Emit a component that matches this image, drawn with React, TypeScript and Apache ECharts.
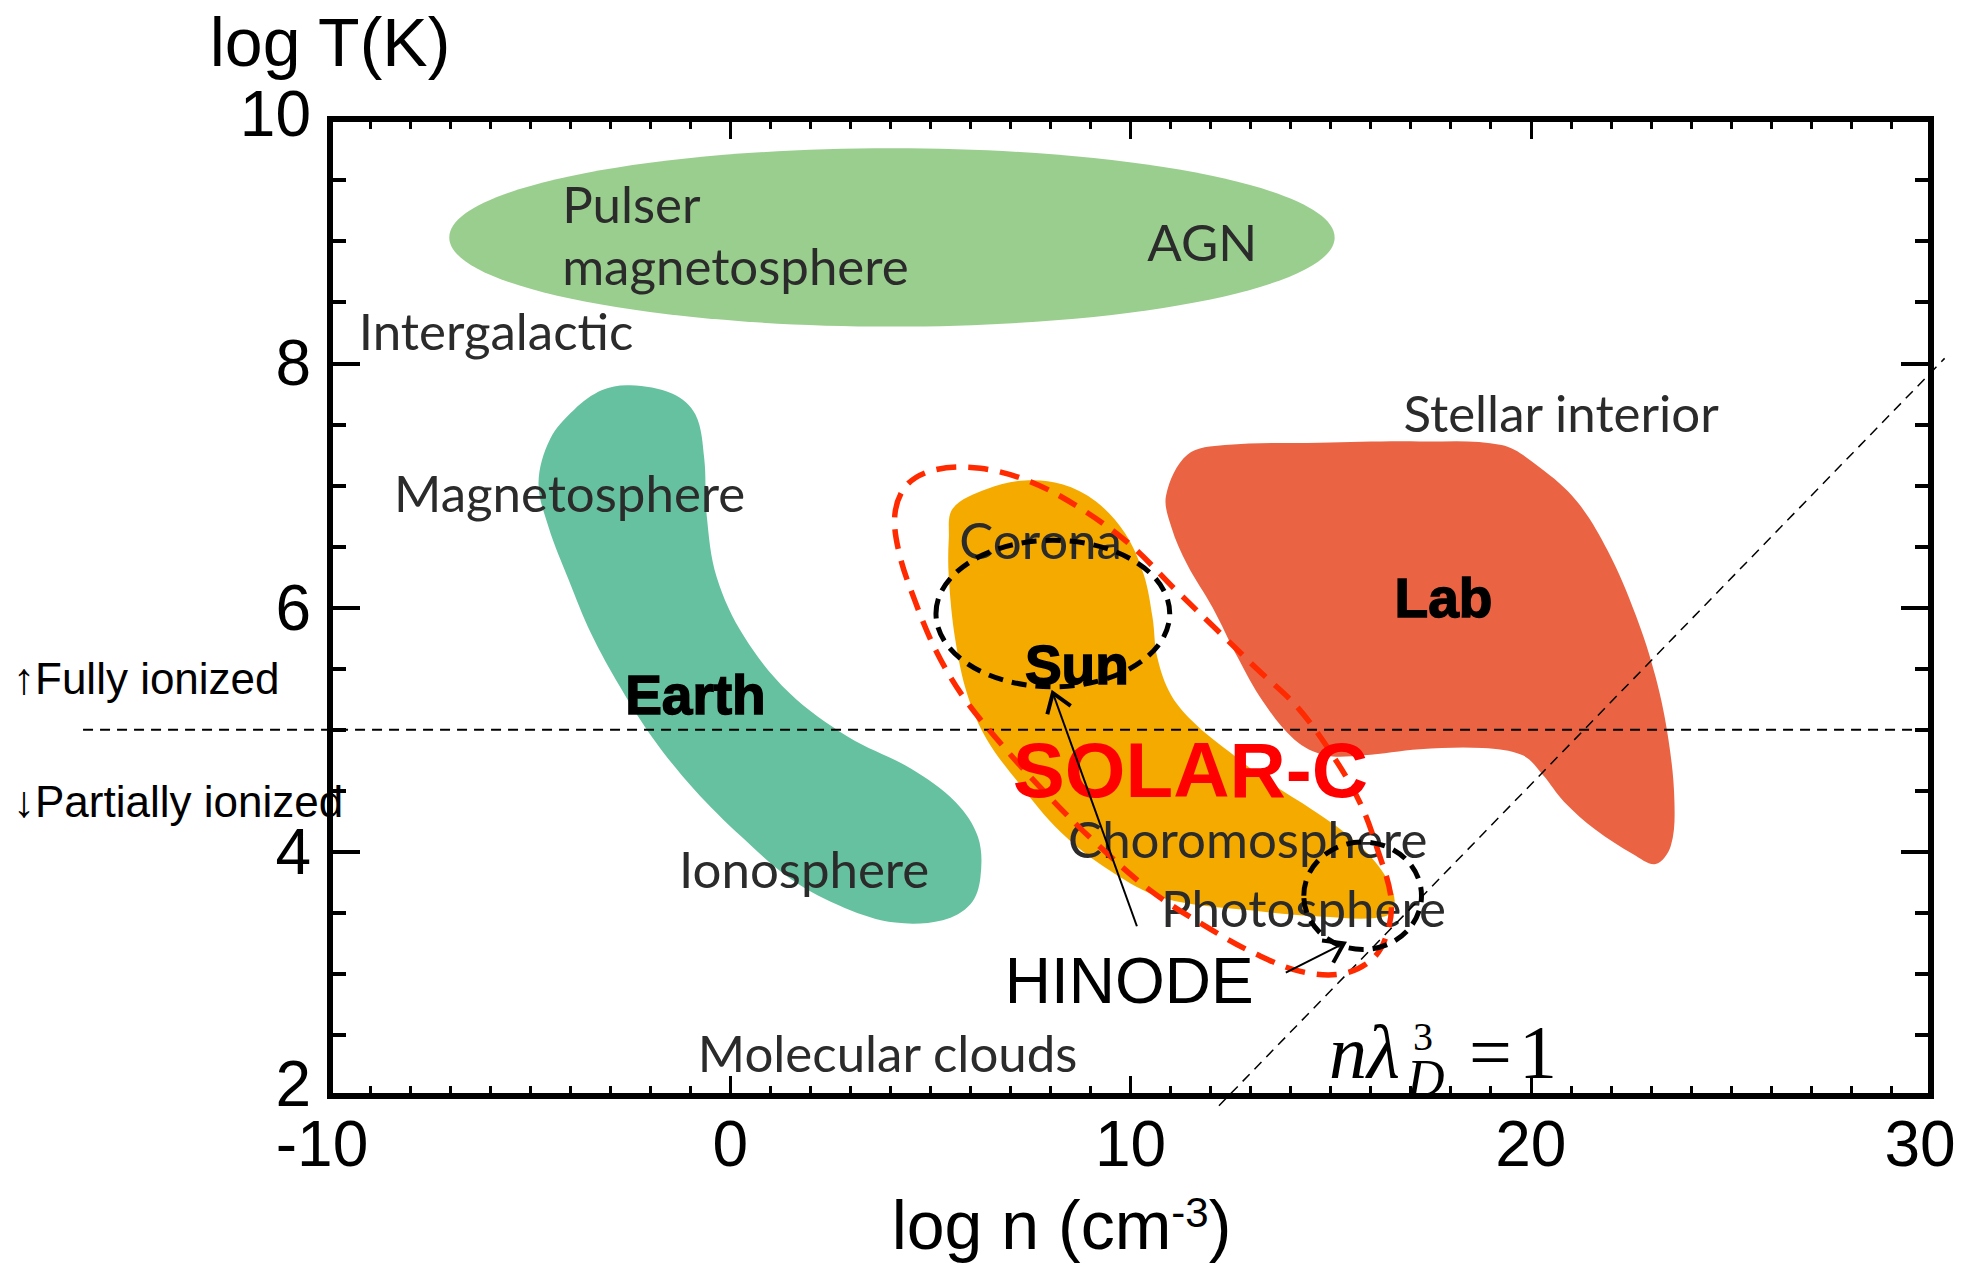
import React, { useEffect, useRef } from 'react';
import * as echarts from 'echarts';

// ---------- data (log n, log T) ----------
const xTicks = [-10, 0, 10, 20, 30];
const yTicks = [2, 4, 6, 8, 10];

// ellipses: [centre n, centre T, half-width n, half-height T]
const pulsarEllipse = [4.04, 9.03, 11.06, 0.73];
const sunCircle = [8.06, 5.95, 2.92, 0.6];
const photosphereCircle = [15.8, 3.64, 1.47, 0.44];

const earthRegion: number[][] = [
  [-2.5, 7.82], [-1.44, 7.75], [-0.87, 7.58], [-0.65, 7.22], [-0.59, 6.76], [-0.34, 6.25],
  [0.35, 5.76], [1.48, 5.3], [2.95, 4.94], [4.52, 4.68], [5.62, 4.41], [6.19, 4.12],
  [6.25, 3.79], [6.0, 3.57], [5.31, 3.44], [4.12, 3.42], [2.86, 3.54], [1.54, 3.77],
  [0.29, 4.12], [-0.9, 4.51], [-1.91, 4.92], [-2.75, 5.35], [-3.48, 5.79], [-4.04, 6.23],
  [-4.54, 6.66], [-4.79, 7.02], [-4.5, 7.38], [-3.9, 7.62], [-3.2, 7.78],
];

const sunRegion: number[][] = [
  [5.56, 6.81], [6.41, 6.97], [7.35, 7.04], [8.29, 7.01], [9.13, 6.87], [9.86, 6.61],
  [10.33, 6.27], [10.55, 5.92], [10.67, 5.59], [11.02, 5.28], [11.64, 5.04], [12.46, 4.82],
  [13.46, 4.57], [14.56, 4.34], [15.56, 4.1], [16.29, 3.84], [16.6, 3.6], [16.35, 3.47],
  [14.72, 3.47], [12.99, 3.52], [10.83, 3.62], [9.51, 3.84], [8.26, 4.16], [7.19, 4.57],
  [6.41, 4.92], [5.93, 5.28], [5.62, 5.74], [5.46, 6.25], [5.46, 6.56],
];

const labRegion: number[][] = [
  [11.42, 7.25], [12.36, 7.33], [14.72, 7.35], [17.23, 7.36], [19.27, 7.33], [20.21, 7.15],
  [21.15, 6.87], [21.93, 6.46], [22.62, 5.94], [23.12, 5.43], [23.44, 4.92], [23.59, 4.41],
  [23.5, 4.05], [23.12, 3.9], [22.56, 3.98], [21.62, 4.18], [20.83, 4.41], [20.3, 4.63],
  [19.8, 4.79], [18.8, 4.85], [17.23, 4.84], [15.82, 4.79], [14.87, 4.79], [14.09, 4.92],
  [13.31, 5.23], [12.68, 5.59], [12.05, 6.0], [11.42, 6.35], [11.02, 6.66], [10.89, 6.92],
];

const solarCRange: number[][] = [
  [4.12, 6.78], [4.43, 7.01], [5.15, 7.13], [6.25, 7.14], [7.5, 7.03], [8.76, 6.81],
  [10.01, 6.51], [11.11, 6.15], [12.15, 5.82], [13.15, 5.5], [14.18, 5.18], [15.09, 4.77],
  [15.75, 4.39], [16.16, 4.03], [16.51, 3.62], [16.41, 3.33], [16.04, 3.12], [15.28, 3.0],
  [14.25, 3.02], [13.15, 3.16], [12.08, 3.35], [10.51, 3.68], [9.01, 4.11], [8.0, 4.44],
  [6.88, 4.84], [5.84, 5.26], [5.15, 5.64], [4.62, 6.05], [4.21, 6.46],
];

const ionizationLine = [[-16.17, 5], [30, 5]];
const debyeLine = [[12.21, 1.92], [30.34, 8.04]];

// HINODE arrows: [start n, start T, tip n, tip T]
const hinodeArrows = [
  [10.16, 3.39, 8.06, 5.3],
  [13.88, 3.01, 15.33, 3.25],
];

const regionNames = [
  'Pulser', 'magnetosphere', 'AGN', 'Intergalactic', 'Magnetosphere', 'Stellar interior',
  'Corona', 'Choromosphere', 'Photosphere', 'Ionosphere', 'Molecular clouds',
];
const regionNamePos = [
  [-4.2, 9.31], [-4.2, 8.8], [10.42, 9.0], [-9.28, 8.27], [-8.4, 6.94], [16.82, 7.6],
  [5.72, 6.56], [8.44, 4.11], [10.76, 3.54], [-1.28, 3.86], [-0.81, 2.36],
];

const boldNames = ['Earth', 'Sun', 'Lab'];
const boldNamePos = [[-0.87, 5.28], [8.66, 5.53], [17.82, 6.08]];

const sideNotes = ['↑Fully ionized', '↓Partially ionized'];
const sideNotePos = [[-17.92, 5.42], [-17.92, 4.41]];

const solarCLabel = ['SOLAR-C'];
const solarCPos = [[7.06, 4.67]];
const hinodeLabel = ['HINODE'];
const hinodePos = [[6.86, 2.94]];
const debyeLabelPos = [[14.96, 2.15]];

// ---------- styles ----------
const GREEN_LIGHT = '#9ACE8E';
const TEAL = '#66C1A0';
const ORANGE = '#F5AA00';
const LAB_RED = '#EA6444';
const DASH_RED = '#FF2A00';
const GREY_TEXT = '#2b2b2b';

function regionSeries(points: number[][], fill: string, z: number) {
  return {
    type: 'custom',
    coordinateSystem: 'cartesian2d',
    silent: true,
    z,
    data: points,
    renderItem: (params: any, api: any) => {
      if (params.dataIndex !== 0) return null;
      return {
        type: 'polygon',
        shape: { points: points.map((p) => api.coord(p)), smooth: 0.35 },
        style: { fill, stroke: null },
      };
    },
  };
}

function dashedOutlineSeries(points: number[][], stroke: string, z: number) {
  return {
    type: 'custom',
    coordinateSystem: 'cartesian2d',
    silent: true,
    z,
    data: points,
    renderItem: (params: any, api: any) => {
      if (params.dataIndex !== 0) return null;
      return {
        type: 'polygon',
        shape: { points: points.map((p) => api.coord(p)), smooth: 0.35 },
        style: { fill: null, stroke, lineWidth: 5.5, lineDash: [20, 12] },
      };
    },
  };
}

function dashedLineSeries(points: number[][], lineWidth: number, z: number) {
  return {
    type: 'custom',
    coordinateSystem: 'cartesian2d',
    silent: true,
    clip: false,
    z,
    data: points,
    renderItem: (params: any, api: any) => {
      if (params.dataIndex !== 0) return null;
      const a = api.coord(points[0]);
      const b = api.coord(points[1]);
      return {
        type: 'line',
        shape: { x1: a[0], y1: a[1], x2: b[0], y2: b[1] },
        style: { stroke: '#000', lineWidth, lineDash: [10, 7] },
      };
    },
  };
}

function ellipseSeries(e: number[], style: any, z: number) {
  return {
    type: 'custom',
    coordinateSystem: 'cartesian2d',
    silent: true,
    z,
    data: [[e[0], e[1]]],
    renderItem: (params: any, api: any) => {
      const c = api.coord([e[0], e[1]]);
      const s = api.size([e[2], e[3]]);
      return { type: 'ellipse', shape: { cx: c[0], cy: c[1], rx: s[0], ry: s[1] }, style };
    },
  };
}

function textSeries(texts: string[], pos: number[][], font: any, align: string, z: number) {
  return {
    type: 'custom',
    coordinateSystem: 'cartesian2d',
    silent: true,
    clip: false,
    z,
    data: pos,
    renderItem: (params: any, api: any) => {
      const p = api.coord(pos[params.dataIndex]);
      return {
        type: 'text',
        x: p[0],
        y: p[1],
        style: {
          text: texts[params.dataIndex],
          ...font,
          align,
          verticalAlign: 'middle',
          textAlign: align,
          textVerticalAlign: 'middle',
        },
      };
    },
  };
}

const axisCommon = {
  type: 'value',
  splitLine: { show: false },
  axisLine: { show: true, onZero: false, lineStyle: { color: '#000', width: 6, cap: 'square' } },
};

export default function App() {
  const ref = useRef<HTMLDivElement>(null);

  useEffect(() => {
    if (!ref.current) return;
    const chart = echarts.init(ref.current, undefined, { renderer: 'svg' });

    const xAxisBase = {
      ...axisCommon,
      min: xTicks[0],
      max: xTicks[xTicks.length - 1],
      interval: 10,
      axisTick: { show: true, inside: true, length: 20, lineStyle: { color: '#000', width: 3 } },
      minorTick: { show: true, splitNumber: 10, length: 10, lineStyle: { color: '#000', width: 3 } },
    };
    const yAxisBase = {
      ...axisCommon,
      min: yTicks[0],
      max: yTicks[yTicks.length - 1],
      interval: 2,
      axisTick: { show: true, inside: true, length: 30, lineStyle: { color: '#000', width: 4 } },
      minorTick: { show: true, splitNumber: 4, length: 16, lineStyle: { color: '#000', width: 4 } },
    };

    const tickFont = { fontSize: 64, fontFamily: 'Liberation Sans', color: '#000' };

    const option: any = {
      animation: false,
      backgroundColor: '#ffffff',
      textStyle: { fontFamily: 'Liberation Sans' },
      grid: { left: 330, top: 119, right: 38, bottom: 166, containLabel: false },
      xAxis: [
        {
          ...xAxisBase,
          position: 'bottom',
          axisLabel: {
            show: true,
            ...tickFont,
            margin: 16,
            formatter: (v: number) =>
              v === xTicks[0] ? `{lo|${v}}` : v === xTicks[xTicks.length - 1] ? `{hi|${v}}` : `{n|${v}}`,
            rich: {
              n: { ...tickFont },
              lo: { ...tickFont, padding: [0, 16, 0, 0] },
              hi: { ...tickFont, padding: [0, 22, 0, 0] },
            },
          },
          name: '{a|log n (cm}{b|-3}{a|)}',
          nameLocation: 'middle',
          nameGap: 95,
          nameTextStyle: {
            padding: [0, 138, 0, 0],
            rich: {
              a: { fontSize: 68, fontFamily: 'Liberation Sans', color: '#000' },
              b: { fontSize: 42, fontFamily: 'Liberation Sans', color: '#000', verticalAlign: 'top' },
            },
          },
        },
        { ...xAxisBase, position: 'top', axisLabel: { show: false } },
      ],
      yAxis: [
        {
          ...yAxisBase,
          position: 'left',
          axisLabel: {
            show: true,
            ...tickFont,
            margin: 19,
            formatter: (v: number) => (v === yTicks[0] ? `{lo|${v}}` : v === yTicks[yTicks.length - 1] ? `{hi|${v}}` : `{n|${v}}`),
            rich: {
              n: { ...tickFont },
              lo: { ...tickFont, padding: [0, 0, 24, 0] },
              hi: { ...tickFont, padding: [0, 0, 10, 0] },
            },
          },
          name: 'log T(K)',
          nameLocation: 'end',
          nameGap: 43,
          nameTextStyle: { fontSize: 68, color: '#000', fontFamily: 'Liberation Sans' },
        },
        { ...yAxisBase, position: 'right', axisLabel: { show: false } },
      ],
      series: [
        ellipseSeries(pulsarEllipse, { fill: GREEN_LIGHT, stroke: null }, 1),
        regionSeries(earthRegion, TEAL, 1),
        regionSeries(sunRegion, ORANGE, 1),
        regionSeries(labRegion, LAB_RED, 1),
        textSeries(regionNames, regionNamePos, { fontFamily: 'Lato', fontSize: 51, fill: GREY_TEXT }, 'left', 3),
        textSeries(
          boldNames,
          boldNamePos,
          { fontFamily: 'Liberation Sans', fontWeight: 'bold', fontSize: 55, fill: '#000', stroke: '#000', lineWidth: 1.5 },
          'center',
          3,
        ),
        textSeries(sideNotes, sideNotePos, { fontFamily: 'Liberation Sans', fontSize: 44, fill: '#000' }, 'left', 3),
        dashedLineSeries(ionizationLine, 2, 4),
        dashedLineSeries(debyeLine, 1.5, 4),
        dashedOutlineSeries(solarCRange, DASH_RED, 5),
        ellipseSeries(sunCircle, { fill: null, stroke: '#000', lineWidth: 5, lineDash: [15, 9] }, 5),
        ellipseSeries(photosphereCircle, { fill: null, stroke: '#000', lineWidth: 5, lineDash: [15, 9] }, 5),
        textSeries(solarCLabel, solarCPos, { fontFamily: 'Liberation Sans', fontWeight: 'bold', fontSize: 78, fill: '#FF0000' }, 'left', 6),
        {
          type: 'custom',
          coordinateSystem: 'cartesian2d',
          silent: true,
          clip: false,
          z: 7,
          data: hinodeArrows.map((a) => [a[0], a[1]]),
          renderItem: (params: any, api: any) => {
            const a = hinodeArrows[params.dataIndex];
            const p0 = api.coord([a[0], a[1]]);
            const p1 = api.coord([a[2], a[3]]);
            const ang = Math.atan2(p1[1] - p0[1], p1[0] - p0[0]);
            const L = 22;
            const spread = 0.6;
            const l = [p1[0] - L * Math.cos(ang - spread), p1[1] - L * Math.sin(ang - spread)];
            const r = [p1[0] - L * Math.cos(ang + spread), p1[1] - L * Math.sin(ang + spread)];
            return {
              type: 'group',
              children: [
                { type: 'line', shape: { x1: p0[0], y1: p0[1], x2: p1[0], y2: p1[1] }, style: { stroke: '#000', lineWidth: 2 } },
                { type: 'polyline', shape: { points: [l, p1, r] }, style: { stroke: '#000', lineWidth: 4, fill: null } },
              ],
            };
          },
        },
        textSeries(hinodeLabel, hinodePos, { fontFamily: 'Liberation Sans', fontSize: 64, fill: '#000' }, 'left', 7),
        {
          type: 'custom',
          coordinateSystem: 'cartesian2d',
          silent: true,
          clip: false,
          z: 7,
          data: debyeLabelPos,
          renderItem: (params: any, api: any) => {
            const p = api.coord(debyeLabelPos[0]);
            const serif = { fontFamily: 'Liberation Serif', fill: '#000', align: 'left', verticalAlign: 'middle', textAlign: 'left', textVerticalAlign: 'middle' };
            return {
              type: 'group',
              x: p[0],
              y: p[1],
              children: [
                { type: 'text', x: 0, y: -26, style: { ...serif, text: 'nλ', fontStyle: 'italic', fontSize: 76 } },
                { type: 'text', x: 84, y: -41, style: { ...serif, text: '3', fontSize: 40 } },
                { type: 'text', x: 78, y: 1, style: { ...serif, text: 'D', fontStyle: 'italic', fontSize: 52 } },
                { type: 'text', x: 140, y: -26, style: { ...serif, text: '=', fontSize: 76 } },
                { type: 'text', x: 190, y: -26, style: { ...serif, text: '1', fontSize: 76 } },
              ],
            };
          },
        },
      ],
    };

    chart.setOption(option);
    return () => chart.dispose();
  }, []);

  return (
    <div
      ref={ref}
      style={{ position: 'absolute', left: 0, top: 0, width: 1969, height: 1264, background: '#fff' }}
    />
  );
}
